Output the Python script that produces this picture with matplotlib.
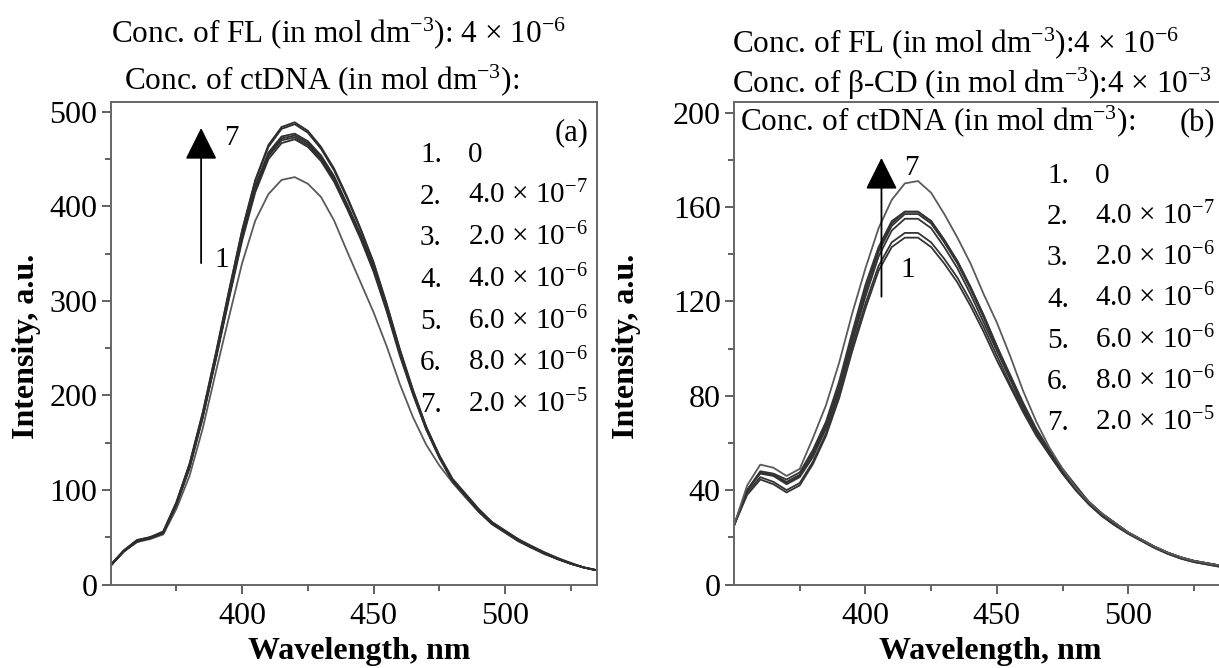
import matplotlib
matplotlib.use("Agg")
import matplotlib.pyplot as plt
from matplotlib.ticker import FixedLocator

plt.rcParams['font.family'] = ['Liberation Serif', 'DejaVu Serif']
plt.rcParams['mathtext.fontset'] = 'custom'
plt.rcParams['mathtext.rm'] = 'Liberation Serif'
plt.rcParams['mathtext.it'] = 'Liberation Serif:italic'
plt.rcParams['mathtext.default'] = 'rm'

# =======================================
# data
# =======================================
wl = [350, 355, 360, 365, 370, 375, 380, 385, 390, 395, 400, 405, 410, 415, 420,
      425, 430, 435, 440, 445, 450, 455, 460, 465, 470, 475, 480, 485, 490, 495,
      500, 505, 510, 515, 520, 525, 530, 535]

# (a) FL + ctDNA
a1 = [20, 35, 45, 48, 53, 80, 115, 165, 225, 283, 340, 385, 413, 428, 431, 424, 410, 385, 352, 320,
      288, 252, 212, 177, 148, 126, 108, 92, 77, 64, 55, 46, 39, 32, 27, 22, 18, 15]
a2 = [20, 35, 46, 49, 54, 84, 123, 176, 238, 302, 364, 415, 450, 467, 471, 463, 448, 426, 397, 366,
      331, 289, 242, 201, 164, 134, 109, 93, 77, 64, 55, 46, 39, 33, 27, 22, 18, 15]
a3 = [20, 35, 46, 49, 55, 85, 124, 177, 239, 304, 366, 418, 453, 470, 473, 465, 450, 428, 399, 368,
      333, 290, 244, 202, 165, 135, 110, 94, 78, 65, 56, 47, 40, 33, 27, 22, 18, 15]
a4 = [20, 35, 45, 49, 55, 85, 125, 178, 240, 305, 368, 420, 455, 472, 475, 467, 452, 430, 400, 370,
      335, 292, 245, 203, 165, 135, 110, 94, 78, 65, 56, 47, 40, 33, 27, 22, 18, 15]
a5 = [20, 36, 46, 50, 55, 86, 126, 179, 241, 306, 370, 422, 457, 474, 477, 469, 454, 432, 402, 371,
      336, 293, 246, 204, 166, 136, 111, 95, 79, 66, 56, 47, 40, 33, 27, 22, 18, 15]
a6 = [21, 36, 47, 50, 56, 87, 127, 181, 244, 310, 374, 427, 463, 482, 487, 478, 461, 438, 408, 376,
      340, 296, 248, 205, 167, 136, 111, 95, 79, 66, 57, 48, 40, 34, 28, 22, 18, 15]
a7 = [21, 36, 47, 50, 56, 87, 128, 182, 245, 311, 375, 428, 465, 484, 489, 480, 463, 440, 410, 377,
      341, 297, 249, 206, 167, 137, 112, 96, 80, 66, 57, 48, 41, 34, 28, 23, 18, 15]

# (b) FL + beta-CD + ctDNA
b1 = [25, 38, 44.5, 42.5, 39, 42, 51, 63, 79, 99, 117, 133, 143, 147, 147, 143, 136, 128, 118, 107,
      95, 84, 73, 63, 55, 47, 40, 34, 29, 25, 21.5, 18.5, 15.5, 13, 11, 9.5, 8.5, 7.5]
b2 = [25, 39, 45.5, 43.5, 40, 43, 52, 64, 81, 101, 119, 135, 145, 149, 149, 145, 138, 130, 120, 109,
      97, 85, 74, 64, 55, 47, 40, 34, 29, 25, 21.5, 18.5, 15.5, 13, 11, 9.5, 8.5, 7.5]
b3 = [25, 40, 47, 46, 42.5, 45.5, 54, 66, 82, 103, 122, 139, 150, 155, 155, 151, 143, 134, 123, 111,
      99, 87, 75, 65, 56, 48, 41, 35, 30, 26, 22, 19, 16, 13.5, 11.5, 10, 9, 8]
b4 = [25, 40, 47.4, 46.5, 43, 46, 55, 67, 83, 104, 124, 141, 152, 157, 157, 153, 145, 136, 125, 113,
      100, 88, 76, 65, 56, 48, 41, 35, 30, 26, 22, 19, 16, 13.5, 11.5, 10, 9, 8]
b5 = [25, 40, 47.5, 46.5, 43.5, 46.5, 56, 68, 84, 105, 125, 142, 153, 158, 158, 154, 146, 137, 126, 114,
      101, 88, 76, 65, 56, 48, 41, 35, 30, 26, 22, 19, 16, 13.5, 11.5, 10, 9, 8]
b6 = [25, 40, 48, 47, 44.5, 47.5, 57, 69, 86, 107, 127, 143, 154, 158, 158, 154, 146, 137, 126, 114,
      101, 89, 77, 66, 57, 49, 42, 35, 30, 26, 22, 19, 16, 13.5, 11.5, 10, 9, 8]
b7 = [25, 42, 50.8, 49.5, 46, 49, 62, 76, 94, 115, 134, 151, 163, 170, 171, 166, 157, 147, 136, 123,
      111, 97, 82, 69, 58, 49, 41, 35, 30, 26, 22, 19, 16, 13.5, 11.5, 10, 9, 8]

curves_a = [a1, a2, a3, a4, a5, a6, a7]
curves_b = [b1, b2, b3, b4, b5, b6, b7]

curve_nums = ['1.', '2.', '3.', '4.', '5.', '6.', '7.']
ctdna_conc = ['0', '4.0 × 10$^{-7}$', '2.0 × 10$^{-6}$', '4.0 × 10$^{-6}$',
              '6.0 × 10$^{-6}$', '8.0 × 10$^{-6}$', '2.0 × 10$^{-5}$']

xticks = [400, 450, 500]
xminor = [375, 425, 475, 525]
yticks_a = [0, 100, 200, 300, 400, 500]
yminor_a = [50, 150, 250, 350, 450]
yticks_b = [0, 40, 80, 120, 160, 200]
yminor_b = [20, 60, 100, 140, 180]

# =======================================
# figure
# =======================================
W, H = 1219, 668
fig = plt.figure(figsize=(W / 100, H / 100), dpi=100)


def box(x0, y0, x1, y1):
    # pixel box (top-left origin) -> figure fraction
    return [x0 / W, 1 - y1 / H, (x1 - x0) / W, (y1 - y0) / H]


def ftext(x, y, s, **kw):
    kw.setdefault('va', 'baseline')
    return fig.text(x / W, 1 - y / H, s, **kw)


ax_a = fig.add_axes(box(110.7, 101.5, 597, 584.5))
ax_b = fig.add_axes(box(734, 101.5, 1220.3, 584.5))


def style(ax, yt, ym, ylim):
    ax.set_xlim(350, 535)
    ax.set_ylim(*ylim)
    ax.xaxis.set_major_locator(FixedLocator(xticks))
    ax.xaxis.set_minor_locator(FixedLocator(xminor))
    ax.yaxis.set_major_locator(FixedLocator(yt))
    ax.yaxis.set_minor_locator(FixedLocator(ym))
    ax.tick_params(which='both', direction='out', color='#555555', width=1.3,
                   labelsize=23, top=False, right=False)
    ax.tick_params(which='major', length=6.5, pad=3)
    ax.tick_params(axis='x', which='major', pad=6)
    ax.tick_params(which='minor', length=4)
    for sp in ax.spines.values():
        sp.set_color('#666666')
        sp.set_linewidth(1.4)


style(ax_a, yticks_a, yminor_a, (0, 511))
style(ax_b, yticks_b, yminor_b, (0, 204.7))

for i, c in enumerate(curves_a):
    col = '#5a5a5a' if i == 0 else '#2e2e2e'
    ax_a.plot(wl, c, color=col, lw=1.3, solid_joinstyle='round')
for i, c in enumerate(curves_b):
    col = '#5a5a5a' if i == 6 else '#333333'
    ax_b.plot(wl, c, color=col, lw=1.3, solid_joinstyle='round')

# arrows 1 -> 7
arr = dict(arrowstyle='-|>,head_length=1.0,head_width=0.5', mutation_scale=20,
           color='black', lw=1.3, shrinkA=0, shrinkB=0)
ax_a.annotate('', xy=(384.4, 483), xytext=(384.4, 340), arrowprops=arr)
ax_a.text(395.8, 472, '7', fontsize=21, ha='center', va='center')
ax_a.text(392.4, 343, '1', fontsize=21, ha='center', va='center')

ax_b.annotate('', xy=(406.1, 180.8), xytext=(406.1, 122), arrowprops=arr)
ax_b.text(417.6, 176.5, '7', fontsize=21, ha='center', va='center')
ax_b.text(416.0, 133.4, '1', fontsize=21, ha='center', va='center')

# headers
ftext(111, 42, 'Conc. of FL (in mol dm$^{-3}$): 4 × 10$^{-6}$', fontsize=22.5)
ftext(124, 89, 'Conc. of ctDNA (in mol dm$^{-3}$):', fontsize=22.5)
ftext(589, 140, '(a)', fontsize=22, ha='right')

ftext(732, 52, 'Conc. of FL (in mol dm$^{-3}$):4 × 10$^{-6}$', fontsize=22.5)
ftext(732, 93, 'Conc. of β-CD (in mol dm$^{-3}$):4 × 10$^{-3}$', fontsize=22.5)
ftext(740, 130, 'Conc. of ctDNA (in mol dm$^{-3}$):', fontsize=22.5)
ftext(1215, 131, '(b)', fontsize=22, ha='right')

# concentration lists
for i in range(7):
    ftext(420, 162 + 41.7 * i, curve_nums[i], fontsize=21)
    ftext(468, 162 + 41.7 * i, ctdna_conc[i], fontsize=21)
    ftext(1047, 182.7 + 41.3 * i, curve_nums[i], fontsize=21)
    ftext(1095, 182.7 + 41.3 * i, ctdna_conc[i], fontsize=21)

# axis titles
for xc in (27, 627):
    ftext(xc, 346, 'Intensity, a.u.', fontsize=23, fontweight='bold',
          rotation=90, ha='center', va='center')
ftext(359, 652, 'Wavelength, nm', fontsize=23, fontweight='bold', ha='center', va='center')
ftext(990, 652, 'Wavelength, nm', fontsize=23, fontweight='bold', ha='center', va='center')

fig.savefig('out.png', dpi=100)
